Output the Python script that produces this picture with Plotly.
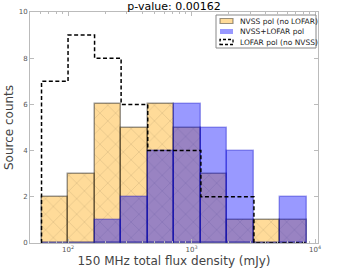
import numpy as np
import plotly.graph_objects as go

# Bin edges (mJy) and counts per bin
bin_edges_mjy = [61, 100, 164, 269, 442, 725, 1190, 1950, 3200, 5250, 8610]
nvss_no_lofar = [2, 3, 6, 5, 6, 5, 3, 1, 1, 1]
nvss_lofar = [0, 0, 1, 2, 4, 6, 5, 4, 0, 2]
lofar_no_nvss = [7, 9, 8, 6, 4, 4, 2, 2, 0, 0]
x_tick_values_mjy = [100, 1000, 10000]
x_tick_labels = ["10<sup>2</sup>", "10<sup>3</sup>", "10<sup>4</sup>"]
series_names = ["NVSS pol (no LOFAR)", "NVSS+LOFAR pol", "LOFAR pol (no NVSS)"]

# x axis is drawn in log10(mJy)
loge = np.log10(np.array(bin_edges_mjy, dtype=float))
left = loge[:-1]
widths = np.diff(loge)
minor_vals = [np.log10(k * 10 ** n) for n in (1, 2, 3) for k in range(2, 10)]

font = "DejaVu Sans, Liberation Sans, sans-serif"
orange_fill = "rgba(255,165,0,0.4)"
orange_edge = "rgba(0,0,0,0.4)"
blue_fill = "rgba(0,0,255,0.4)"
blue_edge = "rgba(0,0,200,0.35)"
dash_style = "4px,2.5px"

fig = go.Figure()
fig.add_trace(go.Bar(
    x=left, y=nvss_no_lofar, width=widths, offset=0,
    name=series_names[0],
    marker=dict(color=orange_fill,
                line=dict(color=orange_edge, width=1.5),
                pattern=dict(shape="x", fillmode="overlay", fgcolor="black",
                             fgopacity=0.2, size=11, solidity=0.07)),
))
fig.add_trace(go.Bar(
    x=left, y=nvss_lofar, width=widths, offset=0,
    name=series_names[1],
    marker=dict(color=blue_fill, line=dict(color=blue_edge, width=1.5)),
))
step_x = [loge[0]] + list(loge)
step_y = [0] + lofar_no_nvss + [0]
fig.add_trace(go.Scatter(
    x=step_x, y=step_y, mode="lines", line_shape="hv",
    name=series_names[2],
    line=dict(color="black", width=1.5, dash=dash_style),
))

# custom legend (pixel layout converted to paper coords)
PL, PR, PT, PB = 30, 318, 12, 243
def px(x):
    return (x - PL) / (PR - PL)
def py(y):
    return (PB - y) / (PB - PT)

shapes = [
    dict(type="rect", xref="paper", yref="paper", x0=px(216), x1=px(316),
         y0=py(48), y1=py(15), fillcolor="white",
         line=dict(color="#888", width=1), layer="above"),
]
rows = [21, 31.5, 42]
sym_styles = [
    dict(fillcolor=orange_fill, line=dict(color=orange_edge, width=1.2)),
    dict(fillcolor=blue_fill, line=dict(color="rgba(0,0,0,0)", width=0)),
    dict(fillcolor="rgba(0,0,0,0)",
         line=dict(color="black", width=1.3, dash="3px,2px")),
]
annotations = []
for r, st, name in zip(rows, sym_styles, series_names):
    shapes.append(dict(type="rect", xref="paper", yref="paper",
                       x0=px(220), x1=px(233), y0=py(r + 2.5), y1=py(r - 2.5),
                       layer="above", **st))
    annotations.append(dict(text=name, xref="paper", yref="paper",
                            x=px(238), y=py(r), xanchor="left",
                            yanchor="middle", showarrow=False,
                            font=dict(size=7.5, color="#222", family=font)))

fig.update_layout(
    width=354, height=272,
    margin=dict(l=PL, r=354 - PR, t=PT, b=272 - PB),
    barmode="overlay", bargap=0,
    plot_bgcolor="white", paper_bgcolor="white",
    font=dict(family=font, color="#333"),
    title=dict(text="p-value: 0.00162", x=0.4915, xanchor="center",
               y=0.976, yanchor="middle", font=dict(size=11, color="black")),
    showlegend=False,
    shapes=shapes,
    annotations=annotations,
)
fig.update_xaxes(
    range=[1.692, 4.024], tickvals=list(np.log10(x_tick_values_mjy)),
    ticktext=x_tick_labels, automargin=False,
    showgrid=False, zeroline=False, showline=True, linecolor="#bbb",
    linewidth=1, mirror="allticks", ticks="inside", ticklen=4,
    tickcolor="#bbb", tickfont=dict(size=7, color="#555"),
    minor=dict(tickvals=minor_vals, ticks="inside", ticklen=2,
               tickcolor="#bbb", showgrid=False),
    title=dict(text="150 MHz total flux density (mJy)",
               font=dict(size=12, color="#444"), standoff=2),
)
fig.update_yaxes(
    range=[0, 10], dtick=2, showgrid=False, zeroline=False, showline=True,
    linecolor="#bbb", linewidth=1, mirror="allticks", ticks="inside",
    ticklen=4, tickcolor="#bbb", tickfont=dict(size=7, color="#555"),
    automargin=False,
    title=dict(text="Source counts", font=dict(size=12, color="#444"),
               standoff=2),
)

fig.write_html("out.html", config={"displayModeBar": False},
               post_script="document.body.style.margin='0';")
